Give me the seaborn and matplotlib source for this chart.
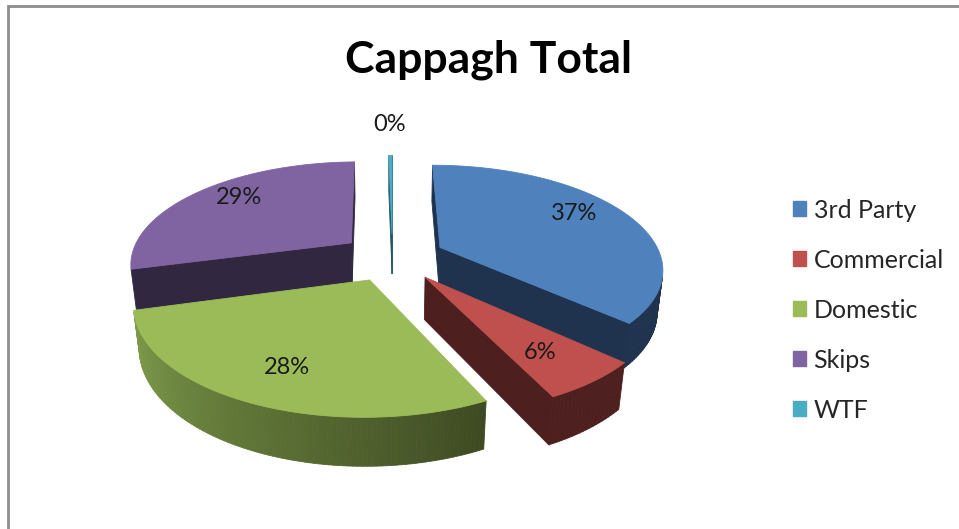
import numpy as np
import matplotlib
matplotlib.use("Agg")
import matplotlib.pyplot as plt
import seaborn as sns
from matplotlib.patches import Patch, Rectangle
from matplotlib.colors import to_rgb

# data
categories = ["3rd Party", "Commercial", "Domestic", "Skips", "WTF"]
values = [37.0, 6.0, 28.0, 29.0, 0.3]
top_colors = ["#4f81bd", "#c0504d", "#9bbb59", "#8064a2", "#4bacc6"]
side_colors = ["#1f334f", "#4e1f1f", "#3e4a22", "#322740", "#23566a"]
side_light = ["#1f334f", "#4e1f1f", "#809f4c", "#322740", "#23566a"]
title = "Cappagh Total"

sns.set_theme(style="white")
plt.rcParams["font.family"] = ["Lato", "DejaVu Sans"]

# fake 3D camera (perspective, tilt, thickness, explode)
S, C = 0.458, 0.889
K = 0.19
H = 0.214
EXPLODE = 0.239
SCALE = 221.0
CX, CY = 392.5, 257.0
W, HT = 959, 529


def project(u, v, w):
    d = 1 + K * v - K * S / C * w
    return u / d, (S * v + C * w) / d


CAM = np.array([0.0, -C * C / K, S * C / K])


def visible(normal, point):
    return np.dot(normal, CAM - np.asarray(point)) > 0


fig = plt.figure(figsize=(9.59, 5.29), dpi=100)
ax = fig.add_axes([0, 0, 1, 1])
ax.set_xlim(-CX / SCALE, (W - CX) / SCALE)
ax.set_ylim(-(HT - CY) / SCALE, CY / SCALE)
ax.axis("off")

total = sum(values)
fracs = [v / total for v in values]
# clockwise from 12 o'clock
ends = 90 - 360 * np.cumsum(fracs)
starts = np.concatenate([[90], ends[:-1]])
slices = []
for i in range(len(values)):
    t0, t1 = np.deg2rad(ends[i]), np.deg2rad(starts[i])  # ccw order
    tm = 0.5 * (t0 + t1)
    ou, ov = EXPLODE * np.cos(tm), EXPLODE * np.sin(tm)
    slices.append((i, t0, t1, tm, ou, ov))

# back to front
slices.sort(key=lambda s: -s[5])


def poly(pts, color):
    xy = [project(*p) for p in pts]
    ax.fill([p[0] for p in xy], [p[1] for p in xy], color=color,
            lw=0.6, ec=color, joinstyle="round")


for i, t0, t1, tm, ou, ov in slices:
    apex_t = (ou, ov, 0)
    apex_b = (ou, ov, -H)
    # cut faces
    for t, n in [(t0, (np.sin(t0), -np.cos(t0), 0)), (t1, (-np.sin(t1), np.cos(t1), 0))]:
        rt = (ou + np.cos(t), ov + np.sin(t), 0)
        rb = (ou + np.cos(t), ov + np.sin(t), -H)
        if visible(n, rt):
            poly([apex_t, rt, rb, apex_b], side_colors[i])
    # outer wall, lighter on the left
    n_steps = max(2, int(np.rad2deg(t1 - t0)))
    ts = np.linspace(t0, t1, n_steps + 1)
    c_dark, c_light = np.array(to_rgb(side_colors[i])), np.array(to_rgb(side_light[i]))
    for a0, a1 in zip(ts[:-1], ts[1:]):
        am = 0.5 * (a0 + a1)
        p = (ou + np.cos(am), ov + np.sin(am), 0)
        if not visible((np.cos(am), np.sin(am), 0), p):
            continue
        f = (am - t0) / (t1 - t0)
        col = c_light * (1 - f) + c_dark * f
        poly([(ou + np.cos(a0), ov + np.sin(a0), 0), (ou + np.cos(a1), ov + np.sin(a1), 0),
              (ou + np.cos(a1), ov + np.sin(a1), -H), (ou + np.cos(a0), ov + np.sin(a0), -H)], col)
    # top face
    arc = [(ou + np.cos(t), ov + np.sin(t), 0) for t in np.linspace(t0, t1, 120)]
    poly([apex_t] + arc, top_colors[i])

# percent labels
for i, t0, t1, tm, ou, ov in slices:
    r = 0.72 if fracs[i] > 0.02 else 1.40
    lift = 0.04 if ov > 0 else -0.02
    x, y = project(ou + r * np.cos(tm), ov + r * np.sin(tm), lift)
    ax.text(x, y, f"{round(fracs[i] * 100):.0f}%", ha="center", va="center",
            fontsize=17, color="#1a1a1a")

fig.text(488 / W, 1 - 60 / HT, title, ha="center", va="center",
         fontsize=32, fontweight="bold", color="black")

handles = [Patch(facecolor=c, edgecolor=c) for c in top_colors]
fig.legend(handles, categories, loc="center left", bbox_to_anchor=(793 / W, 1 - 310 / HT),
           frameon=False, fontsize=18, handlelength=0.52, handleheight=0.52,
           handletextpad=0.3, labelspacing=1.08, borderpad=0, borderaxespad=0)

# chart border (right and bottom edges fall outside the picture)
top_y = 1 - 6 / HT
fig.add_artist(Rectangle((8 / W, -0.1), 1.2, top_y + 0.1,
                         transform=fig.transFigure, fill=False, ec="#8c8c8c", lw=2, clip_on=False))

fig.savefig("out.png", dpi=100)
